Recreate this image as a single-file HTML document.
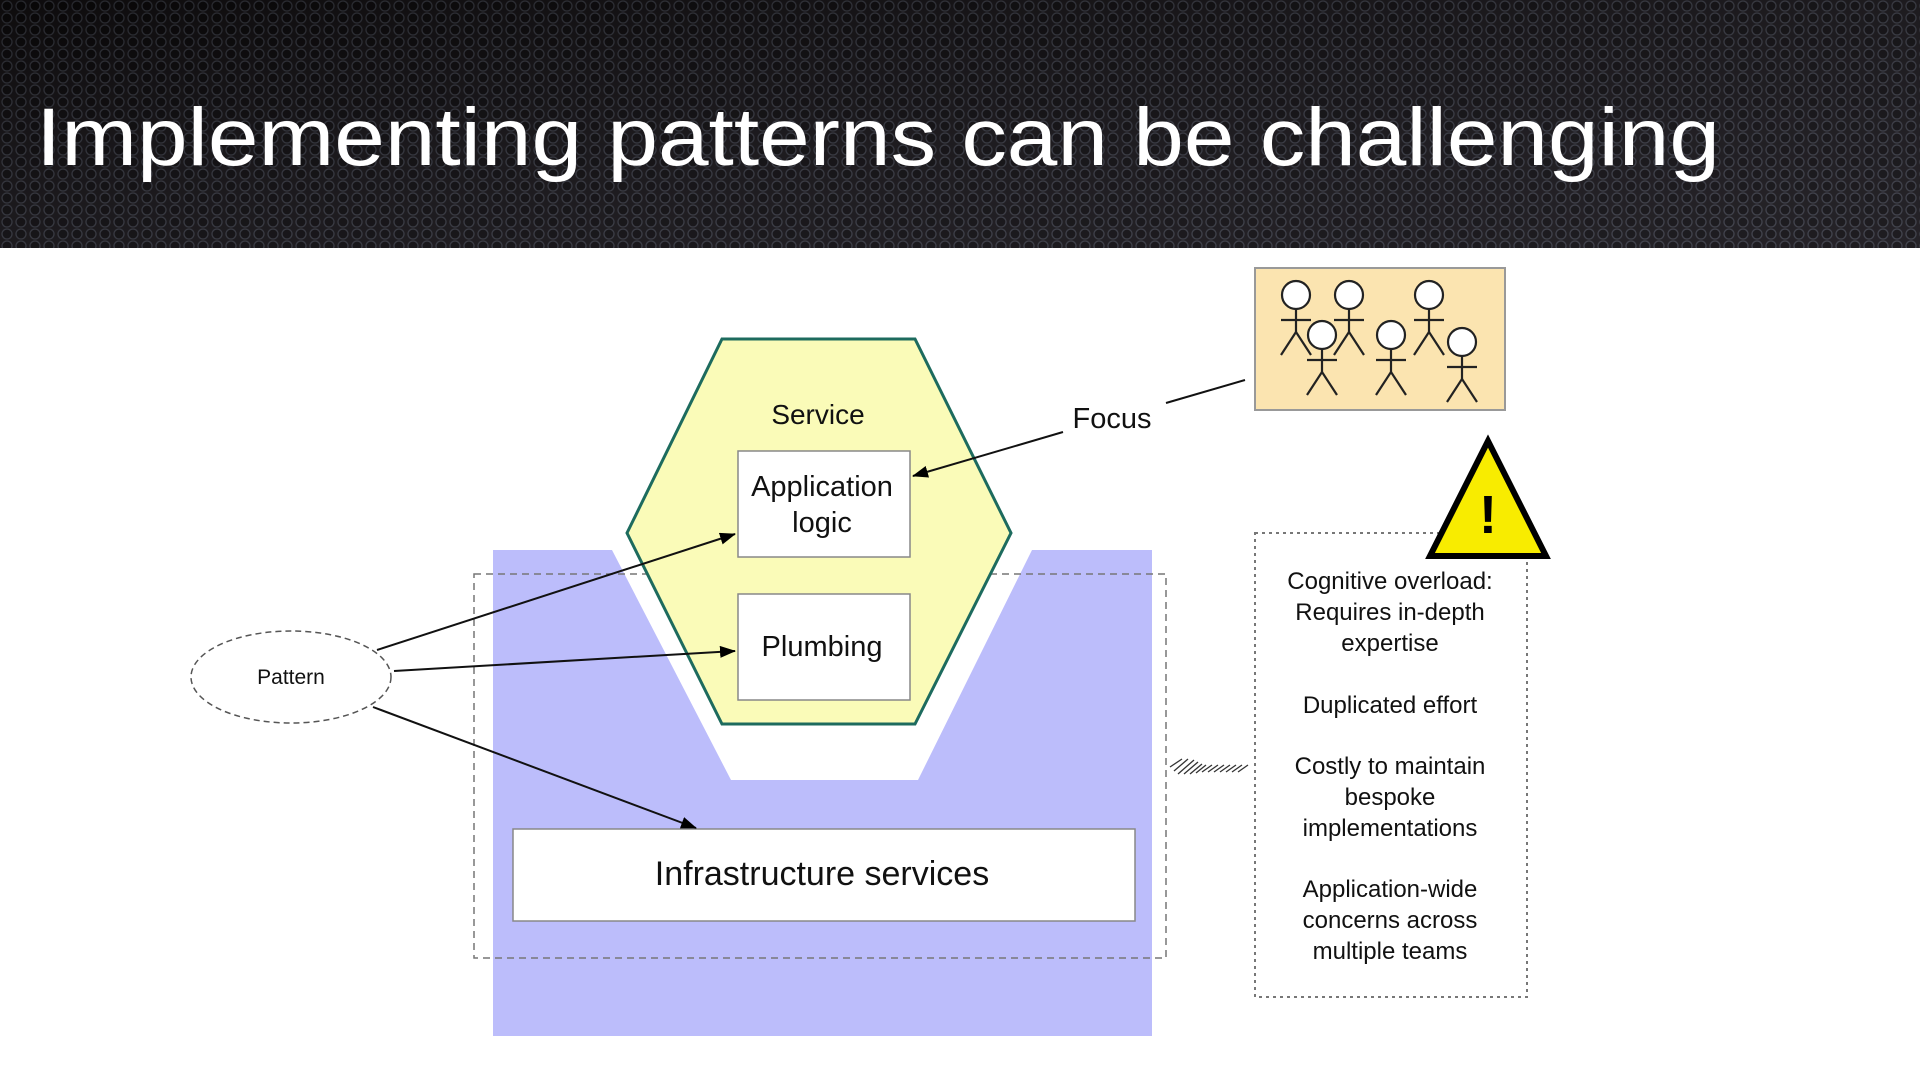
<!DOCTYPE html>
<html><head><meta charset="utf-8"><style>
html,body{margin:0;padding:0;width:1920px;height:1080px;overflow:hidden;background:#fff}
svg{display:block}
text{font-family:"Liberation Sans",sans-serif}
</style></head><body>
<svg width="1920" height="1080" viewBox="0 0 1920 1080" xmlns="http://www.w3.org/2000/svg">
<defs>
<pattern id="dots" width="14" height="12" patternUnits="userSpaceOnUse">
<rect width="14" height="12" fill="#151214"/>
<circle cx="7" cy="6" r="5" fill="#0c0a0b" stroke="#3a3c44" stroke-width="1.3"/>
</pattern>
<linearGradient id="shade" x1="0" y1="0" x2="1" y2="1">
<stop offset="0" stop-color="#000" stop-opacity="0.35"/>
<stop offset="1" stop-color="#667" stop-opacity="0.2"/>
</linearGradient>
<marker id="ah" markerWidth="16" markerHeight="12" refX="15" refY="6" orient="auto" markerUnits="userSpaceOnUse">
<path d="M0,0 L16,6 L0,12 z" fill="#000"/>
</marker>
<g id="p"><circle cx="0" cy="0" r="14"/><line x1="0" y1="14" x2="0" y2="37"/><line x1="-15" y1="25" x2="15" y2="25"/><line x1="0" y1="37" x2="-15" y2="60"/><line x1="0" y1="37" x2="15" y2="60"/></g>
</defs>
<rect x="0" y="0" width="1920" height="248" fill="url(#dots)"/>
<rect x="0" y="0" width="1920" height="248" fill="url(#shade)"/>
<text x="36" y="165" font-size="82" fill="#fff" textLength="1684" lengthAdjust="spacingAndGlyphs">Implementing patterns can be challenging</text>

<path d="M493,550 L612,550 L731,780 L918,780 L1032,550 L1152,550 L1152,1036 L493,1036 Z" fill="#bcbdfb"/>
<rect x="474" y="574" width="692" height="384" fill="none" stroke="#777" stroke-width="1.5" stroke-dasharray="7,5"/>
<polygon points="722,339 915,339 1011,533 915,724 722,724 627,533" fill="#fafbb8" stroke="#1d6b5e" stroke-width="3"/>
<text x="818" y="424" font-size="28" text-anchor="middle" fill="#111">Service</text>
<rect x="738" y="451" width="172" height="106" fill="#fff" stroke="#888" stroke-width="1.5"/>
<text x="822" y="496" font-size="29" text-anchor="middle" fill="#111">Application</text>
<text x="822" y="532" font-size="29" text-anchor="middle" fill="#111">logic</text>
<rect x="738" y="594" width="172" height="106" fill="#fff" stroke="#888" stroke-width="1.5"/>
<text x="822" y="656" font-size="29" text-anchor="middle" fill="#111">Plumbing</text>
<rect x="513" y="829" width="622" height="92" fill="#fff" stroke="#888" stroke-width="1.5"/>
<text x="822" y="885" font-size="34" text-anchor="middle" fill="#111">Infrastructure services</text>

<ellipse cx="291" cy="677" rx="100" ry="46" fill="#fff" stroke="#555" stroke-width="1.5" stroke-dasharray="6,4"/>
<text x="291" y="684" font-size="21" text-anchor="middle" fill="#111">Pattern</text>
<line x1="377" y1="650" x2="735" y2="534" stroke="#111" stroke-width="2" marker-end="url(#ah)"/>
<line x1="394" y1="671" x2="735" y2="651" stroke="#111" stroke-width="2" marker-end="url(#ah)"/>
<line x1="373" y1="707" x2="696" y2="828" stroke="#111" stroke-width="2" marker-end="url(#ah)"/>

<text x="1112" y="428" font-size="29" text-anchor="middle" fill="#111">Focus</text>
<line x1="1063" y1="432" x2="913" y2="476" stroke="#111" stroke-width="2" marker-end="url(#ah)"/>
<line x1="1166" y1="403" x2="1245" y2="380" stroke="#111" stroke-width="2"/>

<rect x="1255" y="268" width="250" height="142" fill="#fbe4b0" stroke="#999" stroke-width="2"/>
<g stroke="#222" stroke-width="2.2" fill="#fff">
<use href="#p" x="1296" y="295"/><use href="#p" x="1349" y="295"/><use href="#p" x="1429" y="295"/>
<use href="#p" x="1322" y="335"/><use href="#p" x="1391" y="335"/><use href="#p" x="1462" y="342"/>
</g>

<rect x="1255" y="533" width="272" height="464" fill="#fff" stroke="#777" stroke-width="2" stroke-dasharray="3,4"/>
<polygon points="1488,441 1430,556 1546,556" fill="#f8ec00" stroke="#000" stroke-width="6"/>
<text x="1488" y="533" font-size="54" font-weight="bold" text-anchor="middle" fill="#000">!</text>
<g font-size="24" text-anchor="middle" fill="#111">
<text x="1390" y="589">Cognitive overload:</text>
<text x="1390" y="620">Requires in-depth</text>
<text x="1390" y="651">expertise</text>
<text x="1390" y="713">Duplicated effort</text>
<text x="1390" y="774">Costly to maintain</text>
<text x="1390" y="805">bespoke</text>
<text x="1390" y="836">implementations</text>
<text x="1390" y="897">Application-wide</text>
<text x="1390" y="928">concerns across</text>
<text x="1390" y="959">multiple teams</text>
</g>
<g stroke="#333" stroke-width="1.3">
<line x1="1170" y1="767" x2="1182" y2="759"/><line x1="1174" y1="771" x2="1188" y2="759"/>
<line x1="1178" y1="774" x2="1194" y2="760"/><line x1="1184" y1="774" x2="1198" y2="762"/>
<line x1="1190" y1="774" x2="1202" y2="764"/><line x1="1196" y1="773" x2="1206" y2="765"/>
<line x1="1202" y1="772" x2="1212" y2="765"/><line x1="1208" y1="772" x2="1218" y2="765"/>
<line x1="1214" y1="772" x2="1224" y2="765"/><line x1="1220" y1="772" x2="1230" y2="765"/>
<line x1="1226" y1="772" x2="1236" y2="765"/><line x1="1232" y1="772" x2="1242" y2="765"/>
<line x1="1238" y1="772" x2="1248" y2="765"/>
</g>
</svg>
</body></html>
